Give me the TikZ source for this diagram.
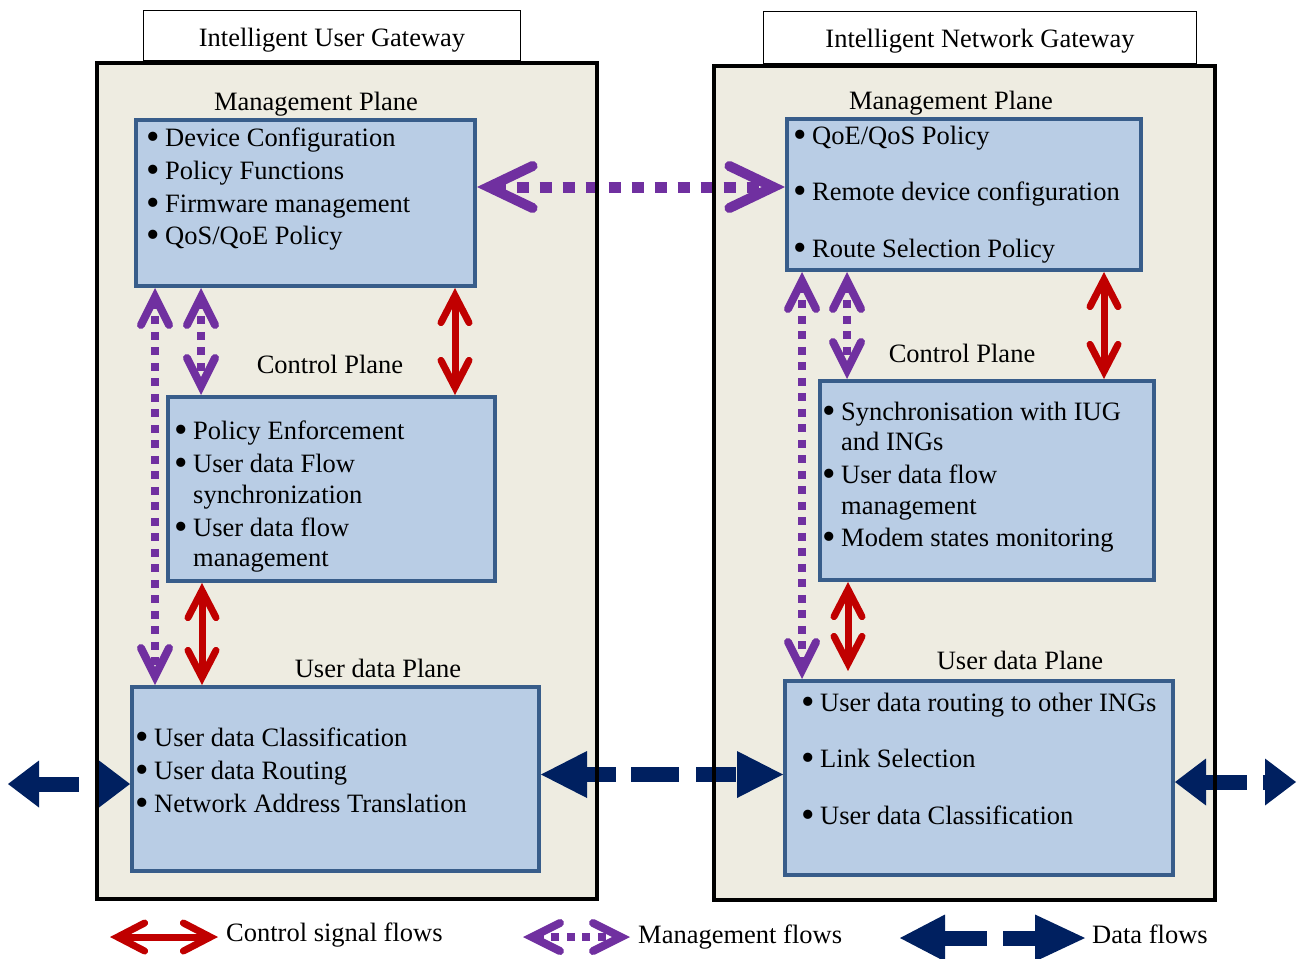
\documentclass[tikz,border=0pt]{standalone}
\usepackage{fontspec}
\setmainfont{Liberation Serif}
\usetikzlibrary{arrows.meta}

\definecolor{gwfill}{HTML}{EEECE1}
\definecolor{planefill}{HTML}{B9CDE5}
\definecolor{planeline}{HTML}{385D8A}
\definecolor{ctrlred}{HTML}{C00000}
\definecolor{mgmtpurple}{HTML}{7030A0}
\definecolor{datanavy}{HTML}{002060}

\newcommand{\bul}{\llap{\smash{\raisebox{-3pt}{\scalebox{1.45}{\textbullet}}}\hspace{5.5pt}}}

\tikzset{
  gateway/.style={draw=black, line width=4pt, fill=gwfill, inner sep=0pt,
    anchor=north west},
  gwtitle/.style={draw=black, line width=1.3pt, fill=white, inner sep=0pt,
    anchor=north west},
  plane/.style={draw=planeline, line width=4pt, fill=planefill, inner sep=0pt,
    anchor=north west},
  item/.style={anchor=base west, inner sep=0pt},
  lbl/.style={anchor=base, inner sep=0pt},
  legtext/.style={anchor=base west, inner sep=0pt},
  ctrlflow/.style={draw=ctrlred, line width=7pt,
    {Straight Barb[length=27pt, width=28pt, line width=7pt, line cap=round, line join=miter]}-{Straight Barb[length=27pt, width=28pt, line width=7pt, line cap=round, line join=miter]}},
  mgmtflow/.style={draw=mgmtpurple, line width=8pt, dash pattern=on 8pt off 7.5pt,
    {Straight Barb[length=28pt, width=28pt, line width=8pt, line cap=round, line join=miter]}-{Straight Barb[length=28pt, width=28pt, line width=8pt, line cap=round, line join=miter]}},
  mgmtwide/.style={draw=mgmtpurple, line width=11pt, dash pattern=on 12pt off 11pt,
    {Straight Barb[length=44pt, width=42pt, line width=10pt, line cap=round, line join=miter]}-{Straight Barb[length=44pt, width=42pt, line width=10pt, line cap=round, line join=miter]}},
  dataflow/.style={draw=datanavy, line width=15pt,
    {Triangle[length=46pt, width=47pt, line width=0pt]}-{Triangle[length=46pt, width=47pt, line width=0pt]}},
  dataedge/.style={draw=datanavy, line width=15pt,
    {Triangle[length=31pt, width=47pt, line width=0pt]}-{Triangle[length=31pt, width=47pt, line width=0pt]}},
}

\begin{document}
\begin{tikzpicture}[x=1pt, y=-1pt, font=\fontsize{26.5}{32}\selectfont]
\useasboundingbox (0,0) rectangle (1297,958);

% gateway frames and their titles
\node[gwtitle, minimum width=377pt, minimum height=50pt] (ltitle) at (143,10) {};
\node[gwtitle, minimum width=433pt, minimum height=52pt] (rtitle) at (763,11) {};
\node[gateway, minimum width=500pt, minimum height=836pt] (lgw) at (95,61) {};
\node[gateway, minimum width=501pt, minimum height=834pt] (rgw) at (712,64) {};
\node[lbl] (ltitletext) at (332,46) {Intelligent User Gateway};
\node[lbl] (rtitletext) at (980,48) {Intelligent Network Gateway};

% planes of the user gateway
\node[plane, minimum width=339pt, minimum height=166pt] (lm) at (134,118) {};
\node[plane, minimum width=327pt, minimum height=184pt] (lc) at (166,395) {};
\node[plane, minimum width=407pt, minimum height=184pt] (lu) at (130,685) {};

% planes of the network gateway
\node[plane, minimum width=354pt, minimum height=151pt] (rm) at (785,117) {};
\node[plane, minimum width=334pt, minimum height=199pt] (rc) at (818,379) {};
\node[plane, minimum width=388pt, minimum height=194pt] (ru) at (783,679) {};

% plane titles
\node[lbl] (lmlbl) at (316,110) {Management Plane};
\node[lbl] (lclbl) at (330,373) {Control Plane};
\node[lbl] (lulbl) at (378,677) {User data Plane};
\node[lbl] (rmlbl) at (951,109) {Management Plane};
\node[lbl] (rclbl) at (962,362) {Control Plane};
\node[lbl] (rulbl) at (1020,669) {User data Plane};

% user gateway items
\node[item] (lm1) at (165,146) {\bul Device Configuration};
\node[item] (lm2) at (165,179) {\bul Policy Functions};
\node[item] (lm3) at (165,212) {\bul Firmware management};
\node[item] (lm4) at (165,244) {\bul QoS/QoE Policy};

\node[item] (lc1) at (193,439) {\bul Policy Enforcement};
\node[item] (lc2) at (193,472) {\bul User data Flow};
\node[item] (lc2b) at (193,503) {synchronization};
\node[item] (lc3) at (193,536) {\bul User data flow};
\node[item] (lc3b) at (193,566) {management};

\node[item] (lu1) at (154,746) {\bul User data Classification};
\node[item] (lu2) at (154,779) {\bul User data Routing};
\node[item] (lu3) at (154,812) {\bul Network Address Translation};

% network gateway items
\node[item] (rm1) at (812,144) {\bul QoE/QoS Policy};
\node[item] (rm2) at (812,200) {\bul Remote device configuration};
\node[item] (rm3) at (812,257) {\bul Route Selection Policy};

\node[item] (rc1) at (841,420) {\bul Synchronisation with IUG};
\node[item] (rc1b) at (841,450) {and INGs};
\node[item] (rc2) at (841,483) {\bul User data flow};
\node[item] (rc2b) at (841,514) {management};
\node[item] (rc3) at (841,546) {\bul Modem states monitoring};

\node[item] (ru1) at (820,711) {\bul User data routing to other INGs};
\node[item] (ru2) at (820,767) {\bul Link Selection};
\node[item] (ru3) at (820,824) {\bul User data Classification};

% management flows
\draw[mgmtwide] ([yshift=16pt]lm.east) -- ([yshift=16pt]lm.east -| rm.west);
\draw[mgmtflow] ([xshift=21pt]lm.south west) -- ([xshift=21pt]lm.south west |- lu.north);
\draw[mgmtflow] ([xshift=67pt]lm.south west) -- ([xshift=67pt]lm.south west |- lc.north);
\draw[mgmtflow] ([xshift=17pt]rm.south west) -- ([xshift=17pt]rm.south west |- ru.north);
\draw[mgmtflow] ([xshift=62pt]rm.south west) -- ([xshift=62pt]rm.south west |- rc.north);

% control signal flows
\draw[ctrlflow] ([xshift=321pt]lm.south west) -- ([xshift=321pt]lm.south west |- lc.north);
\draw[ctrlflow] ([xshift=36pt]lc.south west) -- ([xshift=36pt]lc.south west |- lu.north);
\draw[ctrlflow] ([xshift=319pt]rm.south west) -- ([xshift=319pt]rm.south west |- rc.north);
\draw[ctrlflow, shorten >=8pt] ([xshift=30pt]rc.south west) -- ([xshift=30pt]rc.south west |- ru.north);

% data flows
\coordinate (lout) at (8,784);
\coordinate (rout) at (1296,782);
\draw[dataflow, dash pattern=on 29pt off 15pt on 48pt off 17pt on 40pt off 20pt]
  ([yshift=4.5pt]lu.east) -- ([yshift=4.5pt]lu.east -| ru.west);
\draw[dataedge, dash pattern=on 40pt off 17pt on 4pt off 20pt]
  (lout) -- (lout -| lu.west);
\draw[dataedge, dash pattern=on 41pt off 16pt on 4pt off 20pt]
  (rout -| ru.east) -- (rout);

% frame lines over the data flows
\draw[line width=4pt] ([shift={(2pt,-2pt)}]lgw.north west) rectangle ([shift={(-2pt,2pt)}]lgw.south east);
\draw[line width=4pt] ([shift={(2pt,-2pt)}]rgw.north west) rectangle ([shift={(-2pt,2pt)}]rgw.south east);

% legend
\coordinate (legc1) at (110,937);
\coordinate (legc2) at (218,937);
\coordinate (legm1) at (523,937);
\coordinate (legm2) at (630,937);
\coordinate (legd1) at (900,938);
\coordinate (legd2) at (1085,938);
\draw[ctrlflow] (legc1) -- (legc2);
\draw[mgmtflow] (legm1) -- (legm2);
\draw[draw=datanavy, line width=15pt, dash pattern=on 42pt off 16pt on 40pt off 20pt,
  {Triangle[length=45pt, width=47pt, line width=0pt]}-{Triangle[length=50pt, width=47pt, line width=0pt]}]
  (legd1) -- (legd2);
\node[legtext] (legctext) at (226,941) {Control signal flows};
\node[legtext] (legmtext) at (638,943) {Management flows};
\node[legtext] (legdtext) at (1092,943) {Data flows};
\end{tikzpicture}
\end{document}
